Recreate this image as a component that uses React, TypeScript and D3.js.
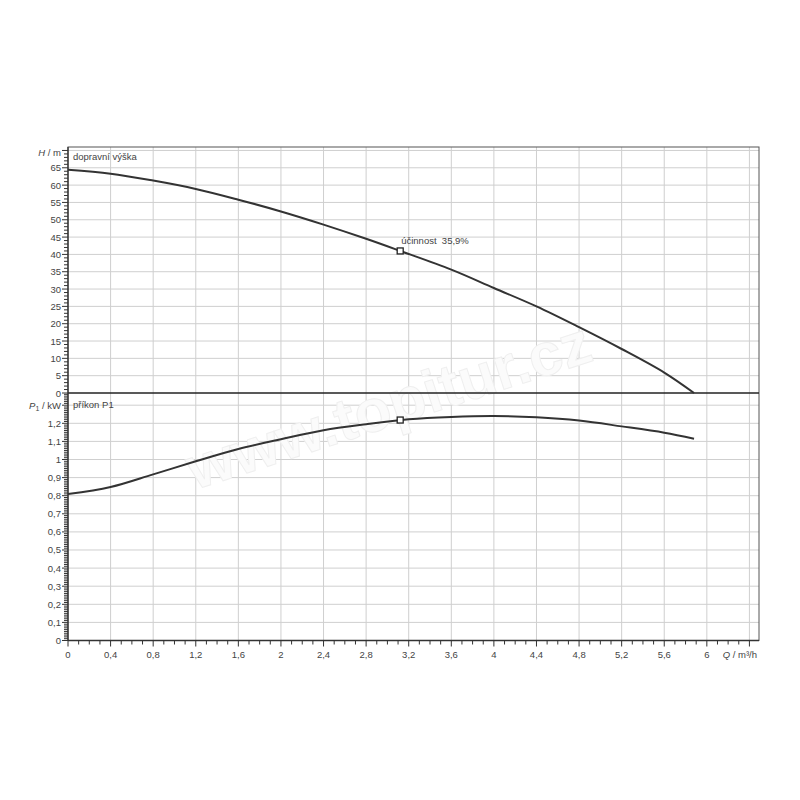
import React from "react";
import * as d3 from "d3";

const qHead = [0, 0.4, 0.8, 1.2, 1.6, 2.0, 2.4, 2.8, 3.12, 3.6, 4.0, 4.4, 4.8, 5.2, 5.6, 5.88];
const hHead = [64.4, 63.3, 61.3, 58.9, 55.8, 52.4, 48.6, 44.5, 41.0, 35.6, 30.3, 25.0, 19.0, 12.7, 5.9, 0];
const qPower = [0, 0.4, 0.8, 1.2, 1.6, 2.0, 2.4, 2.8, 3.2, 3.6, 4.0, 4.4, 4.8, 5.2, 5.6, 5.88];
const pPower = [0.809, 0.848, 0.918, 0.99, 1.058, 1.112, 1.162, 1.195, 1.222, 1.235, 1.24, 1.233, 1.215, 1.183, 1.148, 1.115];
const opQ = 3.12;
const opH = 41.0;
const opP = 1.218;
const opLabel = "účinnost  35,9%";
const xTicks = [0, 0.4, 0.8, 1.2, 1.6, 2, 2.4, 2.8, 3.2, 3.6, 4, 4.4, 4.8, 5.2, 5.6, 6];
const hTicks = [0, 5, 10, 15, 20, 25, 30, 35, 40, 45, 50, 55, 60, 65];
const pTicks = [0, 0.1, 0.2, 0.3, 0.4, 0.5, 0.6, 0.7, 0.8, 0.9, 1, 1.1, 1.2];

const fmt = (v: number) => String(Math.round(v * 10) / 10).replace(".", ",");

export default function App() {
  const left = 68, right = 759, top = 147, mid = 393, bottom = 640.5;
  const x = d3.scaleLinear().domain([0, 6.49]).range([left, right]);
  const yH = d3.scaleLinear().domain([0, 71]).range([mid, top]);
  const yP = d3.scaleLinear().domain([0, 1.3674]).range([bottom, mid]);
  const font = "'Liberation Sans', Arial, sans-serif";
  const txt = "#444";
  const grid = "#cfcfcf";

  const lineH = d3.line<number>().x((d, i) => x(qHead[i])).y(d => yH(d)).curve(d3.curveCatmullRom.alpha(0.5));
  const lineP = d3.line<number>().x((d, i) => x(qPower[i])).y(d => yP(d)).curve(d3.curveCatmullRom.alpha(0.5));

  const xMinor = d3.range(0, 65).map(i => i / 10);
  const hMinor = d3.range(0, 71);
  const pMinor = d3.range(0, 137).map(i => i / 100);

  return (
    <svg width={800} height={800} style={{ position: "absolute", left: 0, top: 0, background: "#fff" }} fontFamily={font}>
      <rect x={0} y={0} width={800} height={800} fill="#fff" />
      {/* grid */}
      {xTicks.filter(t => t > 0).concat([6.4]).map(t => (
        <line key={"gx" + t} x1={x(t)} x2={x(t)} y1={top} y2={bottom} stroke={grid} strokeWidth={1} />
      ))}
      {hTicks.filter(t => t > 0).concat([70]).map(t => (
        <line key={"gh" + t} x1={left} x2={right} y1={yH(t)} y2={yH(t)} stroke={grid} strokeWidth={1} />
      ))}
      {pTicks.filter(t => t > 0).concat([1.3]).map(t => (
        <line key={"gp" + t} x1={left} x2={right} y1={yP(t)} y2={yP(t)} stroke={grid} strokeWidth={1} />
      ))}
      {/* watermark */}
      <text x={395} y={425} textAnchor="middle" fontSize={60} fontWeight="bold" fill="#fbfbfb" stroke="#efefef" strokeWidth={1}
        transform="rotate(-18 395 425)" fontFamily={font}>www.topitur.cz</text>
      {/* frame */}
      <rect x={left} y={top} width={right - left} height={bottom - top} fill="none" stroke="#555" strokeWidth={1} />
      <line x1={left} x2={right} y1={mid} y2={mid} stroke="#222" strokeWidth={1.3} />
      <line x1={left} x2={left} y1={top} y2={bottom} stroke="#333" strokeWidth={1.3} />
      <line x1={left} x2={right} y1={bottom} y2={bottom} stroke="#333" strokeWidth={1.3} />
      {/* x ticks */}
      {xMinor.map(t => {
        const major = Math.abs(t / 0.4 - Math.round(t / 0.4)) < 1e-6;
        return <line key={"xt" + t} x1={x(t)} x2={x(t)} y1={bottom} y2={bottom + (major ? 6 : 4)} stroke="#333" strokeWidth={1} />;
      })}
      {xTicks.map(t => (
        <text key={"xl" + t} x={x(t)} y={658} textAnchor="middle" fontSize={9.5} fill={txt}>{fmt(t)}</text>
      ))}
      <text x={757} y={658} textAnchor="end" fontSize={9.5} fill={txt}><tspan fontStyle="italic">Q</tspan> / m³/h</text>
      {/* H axis */}
      {hMinor.map(t => {
        const major = t % 5 === 0;
        return <line key={"ht" + t} x1={left - (major ? 6 : 4)} x2={left} y1={yH(t)} y2={yH(t)} stroke="#333" strokeWidth={1} />;
      })}
      {hTicks.map(t => (
        <text key={"hl" + t} x={61} y={yH(t) + 3.5} textAnchor="end" fontSize={9.5} fill={txt}>{t}</text>
      ))}
      <text x={61} y={yH(70) + 6} textAnchor="end" fontSize={9.5} fill={txt}><tspan fontStyle="italic">H</tspan> / m</text>
      {/* P axis */}
      {pMinor.map(t => {
        const major = Math.abs(t * 10 - Math.round(t * 10)) < 1e-6;
        return <line key={"pt" + t} x1={left - (major ? 6 : 4)} x2={left} y1={yP(t)} y2={yP(t)} stroke="#333" strokeWidth={1} />;
      })}
      {pTicks.map(t => (
        <text key={"pl" + t} x={61} y={yP(t) + 3.5} textAnchor="end" fontSize={9.5} fill={txt}>{fmt(t)}</text>
      ))}
      <text x={61} y={yP(1.3) + 3.5} textAnchor="end" fontSize={9.5} fill={txt}><tspan fontStyle="italic">P</tspan><tspan fontSize={7} dy={2}>1</tspan><tspan dy={-2}> / kW</tspan></text>
      {/* panel labels */}
      <text x={73} y={160} fontSize={9.5} fill={txt}>dopravní výška</text>
      <text x={73} y={408} fontSize={9.5} fill={txt}>příkon P1</text>
      {/* curves */}
      <path d={lineH(hHead) || ""} fill="none" stroke="#333" strokeWidth={2} />
      <path d={lineP(pPower) || ""} fill="none" stroke="#333" strokeWidth={2} />
      {/* operating point */}
      <rect x={x(opQ) - 3} y={yH(opH) - 3} width={6} height={6} fill="#fff" stroke="#222" strokeWidth={1.3} />
      <rect x={x(opQ) - 3} y={yP(opP) - 3} width={6} height={6} fill="#fff" stroke="#222" strokeWidth={1.3} />
      <text x={x(opQ) + 1} y={yH(opH) - 7} fontSize={9.5} fill={txt} style={{ whiteSpace: "pre" }}>{opLabel}</text>
    </svg>
  );
}
